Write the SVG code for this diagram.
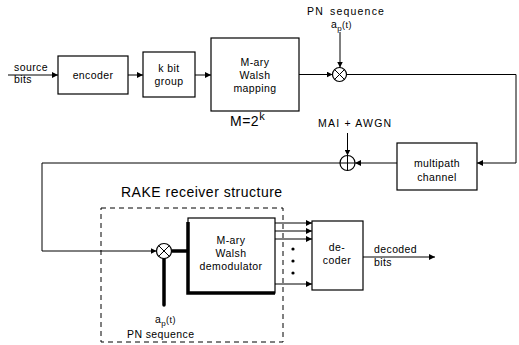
<svg xmlns="http://www.w3.org/2000/svg" width="519" height="345" viewBox="0 0 519 345">
<defs>
<marker id="ah" viewBox="0 0 10 10" refX="10" refY="5" markerWidth="6" markerHeight="6" markerUnits="userSpaceOnUse" orient="auto">
<path d="M0,0 L10,5 L0,10 z" fill="#000"/>
</marker>
</defs>
<style>
.box{fill:#fff;stroke:#000;stroke-width:1.2}
.ln{fill:none;stroke:#000;stroke-width:1}
.thick{fill:none;stroke:#000;stroke-width:3.5}
.dash{fill:none;stroke:#000;stroke-width:1;stroke-dasharray:5,4}
text{font-family:"Liberation Sans",Arial,sans-serif;font-size:10.5px;fill:#000;letter-spacing:0.4px}
.c{text-anchor:middle}
.big{font-size:14px;letter-spacing:0.5px}
.wide{letter-spacing:1.2px}
</style>
<rect width="519" height="345" fill="#fff"/>

<g id="connectors">
<path class="ln" d="M8,75 H58" marker-end="url(#ah)"/>
<path class="ln" d="M128,75 H143" marker-end="url(#ah)"/>
<path class="ln" d="M195,75 H211" marker-end="url(#ah)"/>
<path class="ln" d="M299,74.5 H332.5" marker-end="url(#ah)"/>
<path class="ln" d="M340,32 V67.5" marker-end="url(#ah)"/>
<path class="ln" d="M346.5,74.5 H516 V163 H477" marker-end="url(#ah)"/>
<path class="ln" d="M397,163 H355" marker-end="url(#ah)"/>
<path class="ln" d="M347.5,133 V155.5" marker-end="url(#ah)"/>
<path class="ln" d="M340,163 H42 V251 H156.5" marker-end="url(#ah)"/>
<path class="thick" d="M171.5,251 H188"/>
<path class="thick" d="M164,258.5 V305" stroke-linecap="round"/>
<path class="ln" d="M275,223 H312" marker-end="url(#ah)"/>
<path class="ln" d="M275,231 H312" marker-end="url(#ah)"/>
<path class="ln" d="M275,239 H312" marker-end="url(#ah)"/>
<path class="ln" d="M275,284 H312" marker-end="url(#ah)"/>
<path class="ln" d="M363,257 H435" marker-end="url(#ah)"/>
</g>

<g id="source-bits">
<text x="14" y="71">source</text>
<text x="14" y="83">bits</text>
</g>

<g id="encoder">
<rect class="box" x="58" y="56" width="70" height="38"/>
<text class="c" x="93" y="79">encoder</text>
</g>

<g id="k-bit-group">
<rect class="box" x="143" y="52" width="52" height="45"/>
<text class="c" x="169" y="72">k bit</text>
<text class="c" x="169" y="85">group</text>
</g>

<g id="walsh-mapping">
<rect class="box" x="211" y="38" width="88" height="73"/>
<text class="c" x="255" y="66">M-ary</text>
<text class="c" x="255" y="79">Walsh</text>
<text class="c" x="255" y="92">mapping</text>
<text class="big" x="230" y="126">M=2<tspan dy="-6" font-size="11">k</tspan></text>
</g>

<g id="pn-multiplier-tx">
<text class="wide" x="307" y="15">PN<tspan dx="6">sequence</tspan></text>
<text x="331" y="28">a<tspan dy="3" font-size="8">p</tspan><tspan dy="-3" font-size="9">(t)</tspan></text>
<circle class="box" cx="339.5" cy="74.5" r="7"/>
<path class="ln" d="M334.5,69.5 L344.5,79.5 M344.5,69.5 L334.5,79.5"/>
</g>

<g id="noise-adder">
<text class="wide" x="318" y="127">MAI + AWGN</text>
<circle class="box" cx="347.5" cy="163" r="7.5"/>
<path class="ln" d="M340,163 H355 M347.5,155.5 V170.5"/>
</g>

<g id="multipath-channel">
<rect class="box" x="397" y="143" width="80" height="47"/>
<text class="c" x="437" y="167">multipath</text>
<text class="c" x="437" y="181">channel</text>
</g>

<g id="rake-receiver">
<text class="big" x="121" y="197">RAKE receiver structure</text>
<path class="dash" d="M101,208 H283 V342 H101 Z"/>
</g>

<g id="pn-multiplier-rx">
<circle class="box" cx="164" cy="251" r="7.5"/>
<path class="ln" d="M158.7,245.7 L169.3,256.3 M169.3,245.7 L158.7,256.3"/>
<text x="155" y="323">a<tspan dy="3" font-size="8">p</tspan><tspan dy="-3" font-size="9">(t)</tspan></text>
<text x="127" y="338">PN sequence</text>
</g>

<g id="walsh-demodulator">
<rect class="box" x="188" y="218" width="87" height="75"/>
<path class="thick" d="M188,222 V293 H275"/>
<text class="c" x="231" y="244">M-ary</text>
<text class="c" x="231" y="257">Walsh</text>
<text class="c" x="231" y="270">demodulator</text>
</g>

<g id="dots">
<circle cx="293" cy="249" r="1.6"/>
<circle cx="293" cy="261" r="1.6"/>
<circle cx="293" cy="273" r="1.6"/>
</g>

<g id="decoder">
<rect class="box" x="312" y="221" width="51" height="69"/>
<text class="c" x="337" y="251">de-</text>
<text class="c" x="337" y="264">coder</text>
</g>

<g id="decoded-bits">
<text x="374" y="253">decoded</text>
<text x="374" y="266">bits</text>
</g>
</svg>
